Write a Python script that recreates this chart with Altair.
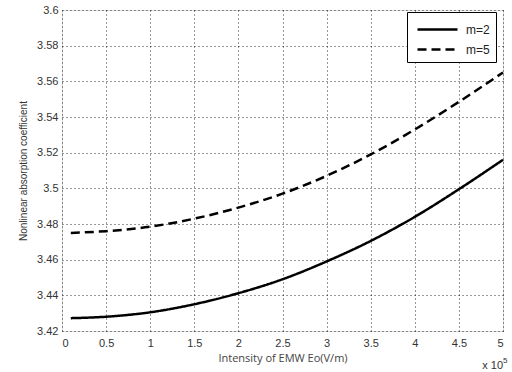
import altair as alt
import pandas as pd

x_vals = [0.1, 0.5, 1.0, 1.5, 2.0, 2.5, 3.0, 3.5, 4.0, 4.5, 5.0]
m2_vals = [3.4272, 3.4280, 3.4305, 3.4350, 3.4412, 3.4490, 3.4590, 3.4705, 3.4840, 3.4995, 3.5160]
m5_vals = [3.4750, 3.4760, 3.4785, 3.4830, 3.4892, 3.4970, 3.5070, 3.5190, 3.5330, 3.5485, 3.5650]
series_names = ["m=2", "m=5"]

rows = []
for x, a, b in zip(x_vals, m2_vals, m5_vals):
    rows.append({"x": x, "y": a, "series": series_names[0]})
    rows.append({"x": x, "y": b, "series": series_names[1]})
df = pd.DataFrame(rows)

font = "Liberation Sans"

base = alt.Chart(df)

lines = base.mark_line(color="black", strokeWidth=2.5, interpolate="monotone").encode(
    x=alt.X("x:Q", scale=alt.Scale(domain=[0, 5], nice=False),
            axis=alt.Axis(title="Intensity of EMW Eo(V/m)", values=[0, 0.5, 1, 1.5, 2, 2.5, 3, 3.5, 4, 4.5, 5],
                          labelExpr="datum.value == 0 ? '0' : format(datum.value, '~g')",
                          grid=True, gridDash=[1, 3], gridColor="#000000", gridOpacity=0.8,
                          ticks=False, labelPadding=6, titlePadding=4,
                          labelFont=font, titleFont="Open Sans", labelFontSize=11, titleFontSize=11,
                          titleFontWeight="normal", labelColor="#333333", titleColor="#444444",
                          domain=False)),
    y=alt.Y("y:Q", scale=alt.Scale(domain=[3.42, 3.6], nice=False, zero=False),
            axis=alt.Axis(title="Nonlinear absorption coefficient",
                          values=[3.42, 3.44, 3.46, 3.48, 3.5, 3.52, 3.54, 3.56, 3.58, 3.6],
                          format="~g",
                          grid=True, gridDash=[1, 3], gridColor="#000000", gridOpacity=0.8,
                          ticks=False, labelPadding=4, titlePadding=8,
                          labelFont=font, titleFont=font, labelFontSize=11, titleFontSize=10,
                          titleFontWeight="normal", labelColor="#333333", titleColor="#333333",
                          domain=False)),
    strokeDash=alt.StrokeDash("series:N",
                              scale=alt.Scale(domain=series_names, range=[[1, 0], [9, 5]]),
                              legend=alt.Legend(title=None, orient="none", legendX=345, legendY=2,
                                                symbolType="M-2,0H2", symbolSize=400,
                                                symbolStrokeWidth=2.5, symbolStrokeColor="black",
                                                labelFont=font, labelFontSize=12, labelColor="#222222",
                                                strokeColor="black", fillColor="white",
                                                padding=6, rowPadding=2, labelOffset=17,
                                                symbolOffset=13)),
)

exp_text = alt.Chart(pd.DataFrame({"t": ["x 10"]})).mark_text(
    font=font, fontSize=11, color="#333333", align="right", baseline="top", dy=29
).encode(x=alt.value(441), y=alt.value(321), text="t:N")
exp_sup = alt.Chart(pd.DataFrame({"t": ["5"]})).mark_text(
    font=font, fontSize=8, color="#333333", align="left", baseline="top", dy=26
).encode(x=alt.value(441), y=alt.value(321), text="t:N")

chart = alt.layer(lines, exp_text, exp_sup).properties(
    width=441, height=321,
    autosize=alt.AutoSizeParams(type="none"),
    padding={"left": 62, "top": 10, "right": 9, "bottom": 41},
).configure_view(stroke="black", strokeWidth=1.5).configure(background="white")

chart.save("out.html", embed_options={"renderer": "svg", "actions": False})
